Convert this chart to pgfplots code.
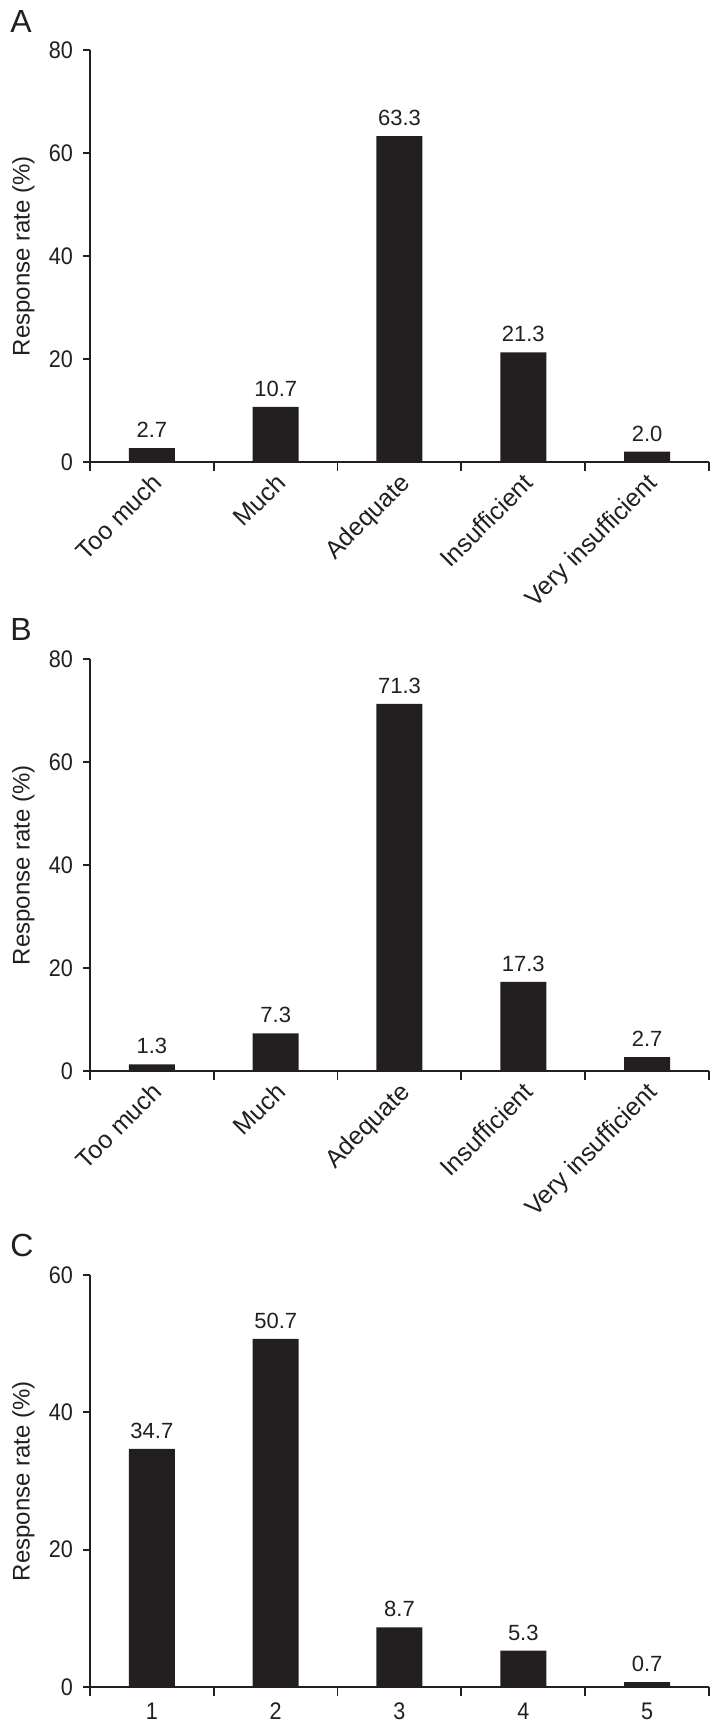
\documentclass[border=0pt]{standalone}
\usepackage{fontspec}
\setmainfont{Liberation Sans}
\newfontfamily\condfont[FakeStretch=0.9]{Liberation Sans}
\usepackage{pgfplots}
\pgfplotsset{compat=1.18}
\definecolor{barc}{RGB}{35,31,32}
\pgfplotsset{
  panel/.style={
    scale only axis, width=309.5pt, height=206pt,
    axis lines*=left,
    axis line style={line width=0.9pt, color=barc},
    xmin=-0.5, xmax=4.5, ymin=0,
    xtick={0,1,2,3,4},
    minor xtick={-0.5,0.5,1.5,2.5,3.5,4.5},
    major x tick style={draw=none},
    minor x tick style={line width=0.9pt, color=barc},
    minor tick length=4.25pt,
    major tick length=3.5pt,
    tick align=outside,
    ytick style={line width=0.9pt, color=barc},
    ybar, bar width=23pt,
    /pgf/number format/assume math mode=true,
    tick label style={font=\condfont\fontsize{12}{14}\selectfont, color=barc},
    yticklabel style={xshift=-1.5pt},
    label style={font=\fontsize{12}{14}\selectfont, color=barc},
    ylabel={Response rate (\%)},
    ylabel style={at={(axis description cs:-0.1075,0.5)}, anchor=center},
    nodes near coords={\pgfmathprintnumber[fixed,fixed zerofill,precision=1,assume math mode=true]{\pgfplotspointmeta}},
    every node near coord/.append style={font=\fontsize{11}{13}\selectfont, inner sep=0pt, anchor=south, yshift=5pt, color=barc},
  },
  catlabels/.style={
    xticklabels={Too much, Much, Adequate, Insufficient, Very insufficient},
    xticklabel style={rotate=45, anchor=north east, font=\fontsize{12.5}{14}\selectfont, xshift=2pt, yshift=3pt},
  },
}
\begin{document}
\begin{tikzpicture}
\path[use as bounding box] (0,0) rectangle (356pt,-863pt);
\node[anchor=base west, inner sep=0pt, font=\fontsize{16}{18}\selectfont, color=barc] at (5pt,-16pt) {A};
\node[anchor=base west, inner sep=0pt, font=\fontsize{16}{18}\selectfont, color=barc] at (5pt,-320pt) {B};
\node[anchor=base west, inner sep=0pt, font=\fontsize{16}{18}\selectfont, color=barc] at (5pt,-628pt) {C};

\begin{axis}[panel, catlabels, at={(45pt,-231pt)}, anchor=south west,
  ymax=80, ytick={0,20,40,60,80}]
\addplot[fill=barc, draw=none] coordinates {(0,2.7) (1,10.7) (2,63.3) (3,21.3) (4,2.0)};
\end{axis}

\begin{axis}[panel, catlabels, at={(45pt,-535.5pt)}, anchor=south west,
  ymax=80, ytick={0,20,40,60,80}]
\addplot[fill=barc, draw=none] coordinates {(0,1.3) (1,7.3) (2,71.3) (3,17.3) (4,2.7)};
\end{axis}

\begin{axis}[panel, at={(45pt,-843.5pt)}, anchor=south west,
  ymax=60, ytick={0,20,40,60},
  xticklabels={1,2,3,4,5}, xticklabel style={yshift=-1pt}]
\addplot[fill=barc, draw=none] coordinates {(0,34.7) (1,50.7) (2,8.7) (3,5.3) (4,0.7)};
\end{axis}
\end{tikzpicture}
\end{document}
